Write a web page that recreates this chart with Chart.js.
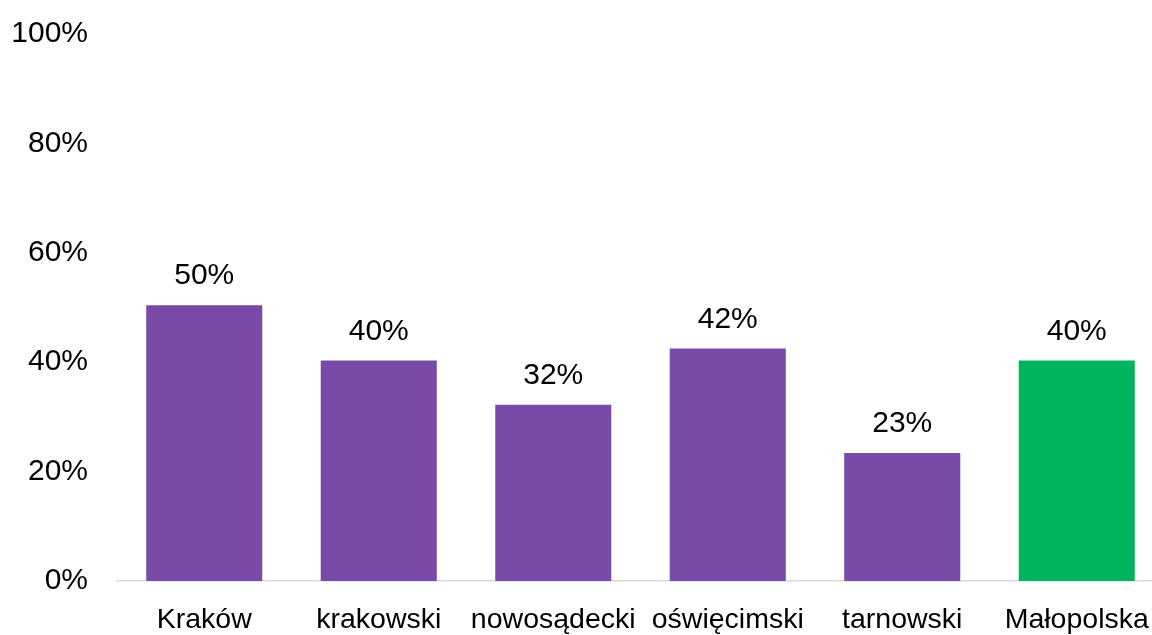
<!DOCTYPE html>
<html>
<head>
<meta charset="utf-8">
<script src="https://cdn.jsdelivr.net/npm/chart.js@4"></script>
<style>
html,body{margin:0;padding:0;background:#fff;overflow:hidden;}
#wrap{position:absolute;left:0;top:-13px;width:1164px;height:648px;}
</style>
</head>
<body>
<div id="wrap"><canvas id="c"></canvas></div>
<script>
const categories = ["Kraków", "krakowski", "nowosądecki", "oświęcimski", "tarnowski", "Małopolska"];
const values = [50.4, 40.3, 32.2, 42.5, 23.4, 40.3];
const labels = ["50%", "40%", "32%", "42%", "23%", "40%"];
const barColors = ["#7a4aa8", "#7a4aa8", "#7a4aa8", "#7a4aa8", "#7a4aa8", "#00b45e"];
const yTicks = [0, 20, 40, 60, 80, 100];

const FONT = "'Liberation Sans', Arial, sans-serif";

const valueLabels = {
  id: 'valueLabels',
  afterDatasetsDraw(chart) {
    const ctx = chart.ctx;
    const meta = chart.getDatasetMeta(0);
    ctx.save();
    ctx.font = "30px " + FONT;
    ctx.fillStyle = "#000";
    ctx.textAlign = "center";
    ctx.textBaseline = "alphabetic";
    meta.data.forEach((bar, i) => {
      ctx.fillText(labels[i], bar.x, bar.y - 21);
    });
    ctx.restore();
  }
};

new Chart(document.getElementById('c'), {
  type: 'bar',
  data: {
    labels: categories,
    datasets: [{
      data: values,
      backgroundColor: barColors,
      borderWidth: 0,
      categoryPercentage: 1,
      barPercentage: 0.665
    }]
  },
  options: {
    responsive: true,
    maintainAspectRatio: false,
    animation: false,
    layout: { padding: { top: 0, right: 0, left: 0, bottom: 0 } },
    plugins: { legend: { display: false }, tooltip: { enabled: false } },
    scales: {
      x: {
        grid: { display: false, drawTicks: false },
        border: { display: true, color: '#d9d9d9', width: 1.5 },
        ticks: { color: '#000', font: { family: FONT, size: 28.5, lineHeight: 1.9 }, padding: 12, maxRotation: 0, autoSkip: false },
        afterFit(scale) { scale.height = 54; }
      },
      y: {
        min: 0, max: 100,
        afterBuildTicks(scale) { scale.ticks = yTicks.map(v => ({ value: v })); },
        grid: { display: false, drawTicks: false },
        border: { display: false },
        ticks: { color: '#000', font: { family: FONT, size: 30 }, padding: 29, callback: v => v + '%' },
        afterFit(scale) { scale.width = 117; }
      }
    }
  },
  plugins: [valueLabels]
});
</script>
</body>
</html>
